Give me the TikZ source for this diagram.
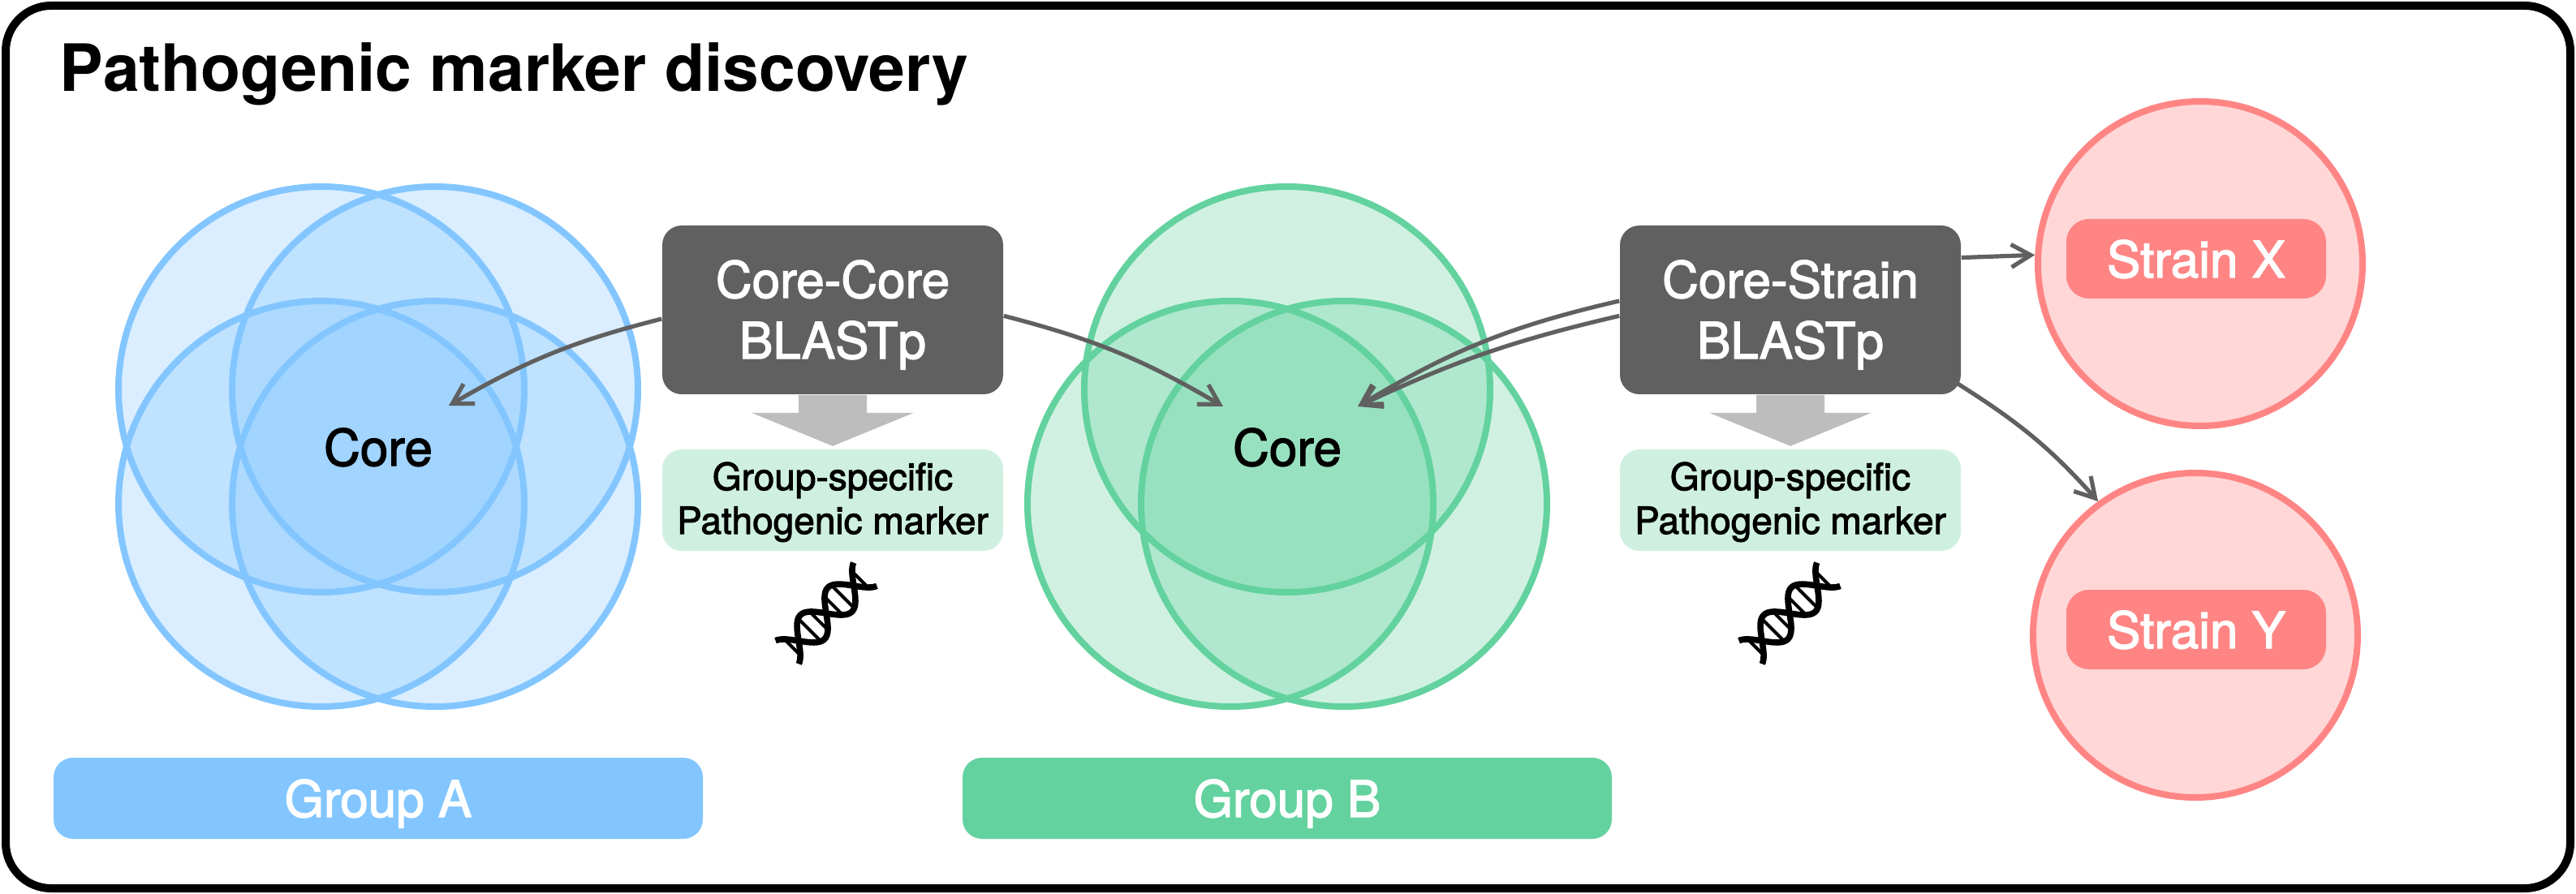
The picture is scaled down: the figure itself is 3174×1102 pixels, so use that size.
\documentclass[tikz,border=0pt]{standalone}
\usepackage{fontspec}
\setmainfont{TeX Gyre Heros}
\newfontfamily\medfont[FakeBold=2.2]{TeX Gyre Heros}
\usetikzlibrary{arrows.meta,calc}
\definecolor{groupA}{HTML}{83C6FF}
\definecolor{groupB}{HTML}{63D29F}
\definecolor{strainred}{HTML}{FF8585}
\definecolor{boxgray}{HTML}{606060}
\definecolor{shaftgray}{HTML}{BDBDBD}
\definecolor{markergreen}{HTML}{CFF0E0}
\tikzset{
  venn/.style={circle,inner sep=0pt,minimum size=125pt,line width=2pt,fill opacity=0.3},
  strain/.style={circle,inner sep=0pt,minimum size=100pt,line width=2pt,draw=strainred,fill=strainred!33},
  blast/.style={rounded corners=6pt,fill=boxgray,text=white,align=center,inner sep=0pt,minimum width=105pt,minimum height=52pt,text height=41pt,text depth=11pt,font={\fontsize{15.5}{18.75}\medfont}},
  marker/.style={rounded corners=6pt,fill=markergreen,align=center,inner sep=0pt,minimum width=105pt,minimum height=31.25pt,text height=26pt,text depth=5.25pt,font={\fontsize{11.5}{13.5}\medfont}},
  groupbar/.style={rounded corners=6pt,text=white,inner sep=0pt,minimum width=200pt,minimum height=25pt,text height=18.25pt,text depth=6.75pt,font={\fontsize{15.5}{18}\medfont}},
  strainbar/.style={rounded corners=7pt,fill=strainred,text=white,inner sep=0pt,minimum width=80pt,minimum height=24.5pt,text height=18pt,text depth=6.5pt,font={\fontsize{15.5}{18}\medfont}},
  corelabel/.style={inner sep=0pt,anchor=base,font={\fontsize{15.5}{18}\medfont}},
  link/.style={draw=boxgray,line width=1.3pt,-{Straight Barb[length=6pt,width=7pt]}},
  dna/.pic={
    \draw[line width=1.9pt] plot[domain=-68:68,samples=61] (\x,{21*sin(3.75*\x)});
    \draw[line width=1.9pt] plot[domain=-68:68,samples=61] (\x,{-21*sin(3.75*\x)});
    \foreach \u/\v in {-59/13,-29/19,-13/15,13/15,29/19,59/13}
      \draw[line width=1pt] (\u,-\v) -- (\u,\v);
  },
  blockarrow/.pic={
    \fill[shaftgray] (-42,0) -- (42,0) -- (42,-22) -- (100,-22) -- (0,-63) -- (-100,-22) -- (-42,-22) -- cycle;
  }
}
\begin{document}
\begin{tikzpicture}[x=0.25pt,y=0.25pt,yscale=-1]
  \useasboundingbox (0,0) rectangle (3174,1102);
  % frame and title
  \draw[line width=2.5pt,rounded corners=14pt] (7,7) rectangle (3167,1095);
  \node[anchor=base west,inner sep=0pt,font={\fontsize{20.1}{24}\bfseries}] (title) at (73,113) {Pathogenic marker discovery};

  % group A
  \foreach \name/\cx/\cy in {a1/396/480,a2/536/480,a3/396/621,a4/536/621}
    \node[venn,draw=groupA,fill=groupA] (\name) at (\cx,\cy) {};
  \node[corelabel] (coreA) at (466,574) {Core};
  \node[groupbar,fill=groupA] (groupA) at (466,984) {Group A};

  % group B
  \foreach \name/\cx/\cy in {b1/1586/480,b2/1516/621,b3/1656/621}
    \node[venn,draw=groupB,fill=groupB] (\name) at (\cx,\cy) {};
  \node[corelabel] (coreB) at (1586,574) {Core};
  \node[groupbar,fill=groupB] (groupB) at (1586,984) {Group B};

  % strains
  \node[strain] (circX) at (2711,325) {};
  \node[strain] (circY) at (2705,783) {};
  \node[strainbar] (strainX) at (2706,319) {Strain X};
  \node[strainbar] (strainY) at (2706,776) {Strain Y};

  % free ends near the core labels
  \coordinate (tipA) at (553,500);
  \coordinate (tipBl) at (1507,501);
  \coordinate (tipBr) at (1673,501);

  % BLAST boxes
  \node[blast] (corecore) at (1026,382) {Core-Core\\BLASTp};
  \node[blast] (corestrain) at (2206,382) {Core-Strain\\BLASTp};

  % links
  \draw[link] (corecore.183.5) to[bend left=8] (tipA);
  \draw[link] (corecore.-2.2) to[bend right=8] (tipBl);
  \draw[link] (corestrain.177.5) to[bend left=9] (tipBr);
  \draw[link] (corestrain.182.5) to[bend left=6] (tipBr);
  \draw[link] (corestrain.17.7) to (circX.177);
  \draw[link,shorten <=-2pt] (corestrain.-24) to[bend right=8] (circY.126);

  % results
  \pic at (corecore.south) {blockarrow};
  \pic at (corestrain.south) {blockarrow};
  \node[marker] (markerA) at (1026,616.5) {Group-specific\\Pathogenic marker};
  \node[marker] (markerB) at (2206,616.5) {Group-specific\\Pathogenic marker};
  \pic[rotate=45] at (1018,756) {dna};
  \pic[rotate=45] at (2205,756) {dna};
\end{tikzpicture}
\end{document}
